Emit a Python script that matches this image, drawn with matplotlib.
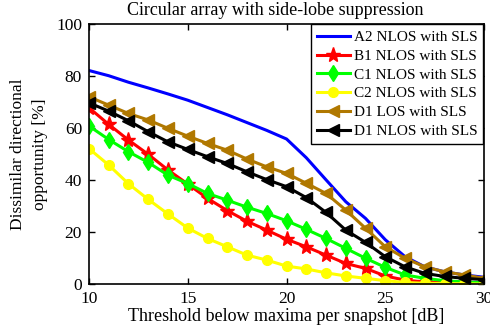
import matplotlib
matplotlib.use("Agg")
import matplotlib.pyplot as plt
import numpy as np

plt.rcParams['font.family'] = ['Liberation Serif', 'DejaVu Serif']
plt.rcParams['mathtext.fontset'] = 'stix'

threshold_db = list(range(10, 31))

a2_nlos = [82, 80, 77.5, 75.3, 73, 70.6, 67.8, 65, 62, 59, 55.7, 48.5, 40, 31.6, 25.2, 17, 10.5, 6.6, 4.7, 3.5, 2.6]
b1_nlos = [67.7, 61.3, 55.3, 49.8, 43.8, 38.4, 32.9, 28.2, 24.1, 20.7, 17.2, 14.3, 11.1, 7.9, 6.0, 3.1, 1.5, 0.8, 0.5, 0.3, 0.2]
c1_nlos = [60.7, 55.5, 50.8, 46.7, 41.8, 38.6, 34.8, 32.2, 29.5, 27.1, 24.3, 21.0, 17.5, 13.7, 9.9, 6.4, 3.5, 2.2, 1.3, 0.8, 0.5]
c2_nlos = [52, 45.7, 38.5, 32.5, 26.9, 21.5, 17.5, 14.3, 11.1, 9.2, 6.9, 5.8, 4.3, 3.1, 2.2, 1.3, 0.6, 0.3, 0.2, 0.1, 0.0]
d1_los = [71.9, 68.7, 65.5, 63, 59.8, 56.8, 54, 51.4, 48, 45, 42.5, 38.7, 34.8, 28.4, 21.4, 14.3, 9.9, 6.6, 4.7, 3.5, 2.2]
d1_nlos = [69.6, 66.4, 62.7, 58.5, 54.6, 51.7, 48.9, 46.3, 43.1, 40.1, 37.4, 33.2, 27.5, 20.7, 16, 10.5, 6.6, 4.1, 2.9, 2.2, 1.7]

labels = ['A2 NLOS with SLS', 'B1 NLOS with SLS', 'C1 NLOS with SLS',
          'C2 NLOS with SLS', 'D1 LOS with SLS', 'D1 NLOS with SLS']

fig = plt.figure(figsize=(4.9, 3.33), dpi=100)
ax = fig.add_axes([0.1816, 0.147, 0.988 - 0.1816, 0.929 - 0.147])

lw = 2.2
ax.plot(threshold_db, a2_nlos, color='#0000FF', lw=lw, label=labels[0])
ax.plot(threshold_db, b1_nlos, color='#FF0000', lw=lw, marker='*', ms=11, label=labels[1])
ax.plot(threshold_db, c1_nlos, color='#00FF00', lw=lw, marker='d', ms=8, label=labels[2])
ax.plot(threshold_db, c2_nlos, color='#FFFF00', lw=lw, marker='o', ms=7, label=labels[3])
ax.plot(threshold_db, d1_los, color='#B07800', lw=lw, marker='<', ms=9, label=labels[4])
ax.plot(threshold_db, d1_nlos, color='#000000', lw=lw, marker='<', ms=9, label=labels[5])

ax.set_xlim(10, 30)
ax.set_ylim(0, 100)
ax.set_xticks([10, 15, 20, 25, 30])
ax.set_yticks([0, 20, 40, 60, 80, 100])
ax.tick_params(direction='in', top=True, right=True, labelsize=12.5, length=4, width=1, pad=5)
for s in ax.spines.values():
    s.set_linewidth(1.2)

ax.set_title('Circular array with side-lobe suppression', fontsize=13, pad=6, x=0.472)
ax.set_xlabel('Threshold below maxima per snapshot [dB]', fontsize=13, labelpad=1)
ax.set_ylabel('Dissimilar directional\nopportunity [%]', fontsize=12.5, labelpad=6,
              linespacing=1.5)

leg = ax.legend(loc='upper right', fontsize=11, frameon=True, fancybox=False,
                edgecolor='black', framealpha=1, borderpad=0.4, labelspacing=0.33,
                handlelength=2.15, handletextpad=0.25, borderaxespad=0.05)
leg.get_frame().set_linewidth(1.0)

fig.savefig('out.png', dpi=100)
